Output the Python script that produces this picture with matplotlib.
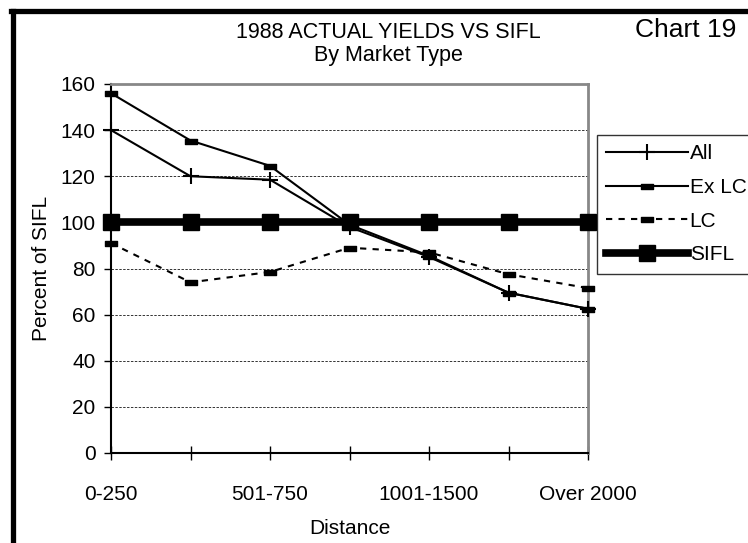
import matplotlib
matplotlib.use("Agg")
import matplotlib.pyplot as plt
from matplotlib.lines import Line2D
from matplotlib.path import Path

plt.rcParams['font.family'] = ['Liberation Sans', 'DejaVu Sans']

# data
distance = ['0-250', '251-500', '501-750', '751-1000', '1001-1500', '1501-2000', 'Over 2000']
all_mkt = [140, 120, 118.5, 98, 85, 69.5, 62.5]
ex_lc = [156, 135.5, 124.5, 99, 85.5, 69.5, 62.5]
lc = [91, 74, 78.5, 89, 87, 77.5, 71.5]
sifl = [100, 100, 100, 100, 100, 100, 100]

x = list(range(len(distance)))
fs = 15

# small flat bar marker used by the Excel chart
bar = Path([(-1, -0.45), (1, -0.45), (1, 0.45), (-1, 0.45), (-1, -0.45)],
           [Path.MOVETO, Path.LINETO, Path.LINETO, Path.LINETO, Path.CLOSEPOLY])

fig = plt.figure(figsize=(7.48, 5.43), dpi=100)
ax = fig.add_axes([111/748, 1 - 453/543, (588-111)/748, (453-84)/543])

ax.plot(x, all_mkt, color='black', lw=1.5, marker='+', ms=12, mew=1.5,
        label='All', clip_on=False, zorder=4)
ax.plot(x, ex_lc, color='black', lw=1.5, marker=bar, ms=8,
        label='Ex LC', clip_on=False, zorder=4)
ax.plot(x, lc, color='black', lw=1.5, ls=(0, (3, 3)), marker=bar, ms=8,
        label='LC', clip_on=False, zorder=4)
ax.plot(x, sifl, color='black', lw=5.5, marker='s', ms=11,
        label='SIFL', clip_on=False, zorder=5)

ax.set_xlim(0, 6)
ax.set_ylim(0, 160)
ax.set_yticks(range(0, 161, 20))
ax.set_xticks(x)
ax.set_xticklabels([d if i % 2 == 0 else '' for i, d in enumerate(distance)])
ax.tick_params(axis='x', direction='inout', length=10, width=1, pad=18, labelsize=fs)
ax.tick_params(axis='y', direction='out', length=5, width=1, pad=6, labelsize=fs)

for yv in range(20, 160, 20):
    ax.axhline(yv, color='#333333', lw=0.7, ls=(0, (2.5, 1.5)), zorder=1)

ax.spines['left'].set_linewidth(1.5)
ax.spines['bottom'].set_linewidth(1.5)
ax.spines['top'].set_color('#888888')
ax.spines['right'].set_color('#888888')
ax.spines['top'].set_linewidth(2)
ax.spines['right'].set_linewidth(2)

ax.set_xlabel('Distance', fontsize=fs, labelpad=11)
ax.set_ylabel('Percent of SIFL', fontsize=fs, labelpad=7)

fig.text(388/748, 1 - 32/543, '1988 ACTUAL YIELDS VS SIFL', ha='center', va='center', fontsize=15.5)
fig.text(388/748, 1 - 56/543, 'By Market Type', ha='center', va='center', fontsize=15.5)
fig.text(686/748, 1 - 30/543, 'Chart 19', ha='center', va='center', fontsize=19)

leg = fig.legend(loc='upper left', bbox_to_anchor=(597/748, 1 - 135/543),
                 fontsize=fs, handlelength=3.9, handletextpad=0.1,
                 labelspacing=0.7, borderpad=0.45, borderaxespad=0,
                 fancybox=False, frameon=True)
leg.get_frame().set_edgecolor('black')
leg.get_frame().set_linewidth(1)

# thick border on left and top of the chart sheet
fig.add_artist(Line2D([12.5/748, 12.5/748], [0, 1 - 10.5/543], color='black', lw=3.8))
fig.add_artist(Line2D([10.5/748, 1], [1 - 10.5/543, 1 - 10.5/543], color='black', lw=3.8))

fig.savefig('out.png', dpi=100)
